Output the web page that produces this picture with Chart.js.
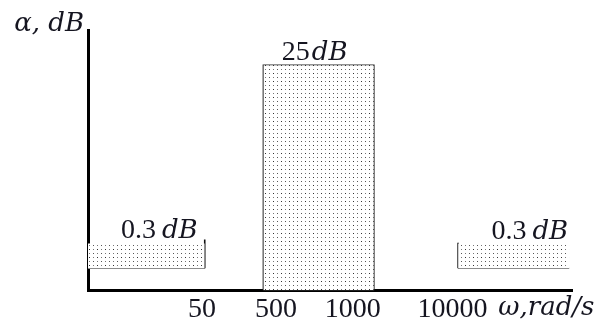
<!DOCTYPE html>
<html>
<head>
<meta charset="utf-8">
<script src="https://cdn.jsdelivr.net/npm/chart.js@4.4.1/dist/chart.umd.min.js"></script>
<style>
  html, body { margin: 0; padding: 0; background: #fff; }
  #wrap { width: 605px; height: 328px; }
</style>
</head>
<body>
<div id="wrap"><canvas id="myChart"></canvas></div>
<script>
// schematic axis: positions along omega are not to scale
var tickLabels = ['50', '500', '1000', '10000', '\u03c9,rad/s'];
var tickPos = [2, 3.3, 4.65, 6.4, 8.05];

// bands: pass (0-50), stop (500-1000), pass (10000-)
var bandStart = [0, 3.08, 6.5];
var bandEnd = [2.05, 5.02, 8.45];
var bandLow = [2.45, 0, 2.45];
var bandHigh = [5.2, 25, 5.2];
var bandWall = [5.65, 25, 5.3];
var bandText = ['0.3', '25', '0.3'];

var serif = '"Liberation Serif", serif';
var mathIt = '"DejaVu Serif", serif';
var ink = '#151520';

// dotted fill
var pc = document.createElement('canvas');
pc.width = 8; pc.height = 8;
var pctx = pc.getContext('2d');
pctx.fillStyle = '#fff';
pctx.fillRect(0, 0, 8, 8);
pctx.fillStyle = '#333';
pctx.fillRect(1, 1, 1, 1);
pctx.fillStyle = '#777';
pctx.fillRect(5, 1, 1, 1);
pctx.fillRect(1, 5, 1, 1);
pctx.fillStyle = '#555';
pctx.fillRect(5, 5, 1, 1);

var ctx = document.getElementById('myChart').getContext('2d');
var dots = ctx.createPattern(pc, 'repeat');

var datasets = [];
for (var i = 0; i < 3; i++) {
    datasets.push({
        data: [{x: bandStart[i], y: bandHigh[i]}, {x: bandEnd[i], y: bandHigh[i]}],
        fill: {value: bandLow[i]},
        backgroundColor: dots,
        borderWidth: 0,
        pointRadius: 0
    });
}
// outlines
datasets.push({
    data: [{x: bandStart[0], y: bandLow[0]}, {x: bandEnd[0], y: bandLow[0]}, {x: bandEnd[0], y: bandWall[0]}],
    fill: false, pointRadius: 0, borderWidth: 1.6,
    segment: { borderColor: function(c) { return c.p0DataIndex === 0 ? '#666' : '#111'; } }
});
datasets.push({
    data: [{x: bandStart[1], y: bandLow[1]}, {x: bandStart[1], y: bandHigh[1]}, {x: bandEnd[1], y: bandHigh[1]}, {x: bandEnd[1], y: bandLow[1]}],
    fill: false, pointRadius: 0, borderWidth: 1.5, borderColor: '#222'
});
datasets.push({
    data: [{x: bandEnd[2], y: bandLow[2]}, {x: bandStart[2], y: bandLow[2]}, {x: bandStart[2], y: bandWall[2]}],
    fill: false, pointRadius: 0, borderWidth: 1.6,
    segment: { borderColor: function(c) { return c.p0DataIndex === 0 ? '#666' : '#111'; } }
});

// upright number + italic unit
function mathText(c, num, unit, x, y, align, gap) {
    c.font = '28px ' + serif;
    var wn = c.measureText(num).width;
    c.font = 'italic 26px ' + mathIt;
    var wu = c.measureText(unit).width;
    var w = wn + gap + wu;
    var left = align === 'right' ? x - w : x - w / 2;
    c.textAlign = 'left';
    c.textBaseline = 'alphabetic';
    c.font = '28px ' + serif;
    c.fillText(num, left, y);
    c.font = 'italic 26px ' + mathIt;
    c.fillText(unit, left + wn + gap, y);
}

var labelsPlugin = {
    id: 'bandLabels',
    afterDatasetsDraw: function(chart) {
        var c = chart.ctx, xs = chart.scales.x, ys = chart.scales.y;
        c.save();
        c.fillStyle = ink;
        mathText(c, bandText[0], 'dB', xs.getPixelForValue(bandEnd[0]) - 7, ys.getPixelForValue(bandWall[0]) - 1, 'right', 6);
        mathText(c, bandText[1], 'dB', xs.getPixelForValue((bandStart[1] + bandEnd[1]) / 2) - 4, ys.getPixelForValue(bandHigh[1]) - 5, 'center', 2);
        mathText(c, bandText[2], 'dB', xs.getPixelForValue(bandEnd[2]) - 1, ys.getPixelForValue(bandWall[2]) - 4, 'right', 6);
        // y axis title
        c.font = 'italic 26px ' + mathIt;
        c.textAlign = 'right';
        c.textBaseline = 'alphabetic';
        c.fillText('\u03b1, dB', chart.chartArea.left - 4, chart.chartArea.top + 1);
        c.restore();
    }
};

var myChart = new Chart(ctx, {
    type: 'line',
    data: { datasets: datasets },
    plugins: [labelsPlugin],
    options: {
        responsive: true,
        maintainAspectRatio: false,
        animation: false,
        layout: { padding: { left: 88, top: 30, right: 33, bottom: 0 } },
        plugins: { legend: { display: false }, tooltip: { enabled: false } },
        scales: {
            x: {
                type: 'linear',
                min: 0,
                max: 8.5,
                grid: { display: false, drawTicks: false },
                border: { display: true, width: 3, color: '#000' },
                afterBuildTicks: function(scale) {
                    scale.ticks = tickPos.map(function(v) { return {value: v}; });
                },
                ticks: {
                    autoSkip: false,
                    maxRotation: 0,
                    padding: 2,
                    color: ink,
                    font: function(c) {
                        return c.index === tickLabels.length - 1
                            ? {family: mathIt, size: 26, style: 'italic'}
                            : {family: serif, size: 28};
                    },
                    callback: function(value, index) { return tickLabels[index]; }
                }
            },
            y: {
                min: 0,
                max: 28.9,
                grid: { display: false, drawTicks: false },
                border: { display: true, width: 3, color: '#000' },
                ticks: { display: false }
            }
        }
    }
});
</script>
</body>
</html>
